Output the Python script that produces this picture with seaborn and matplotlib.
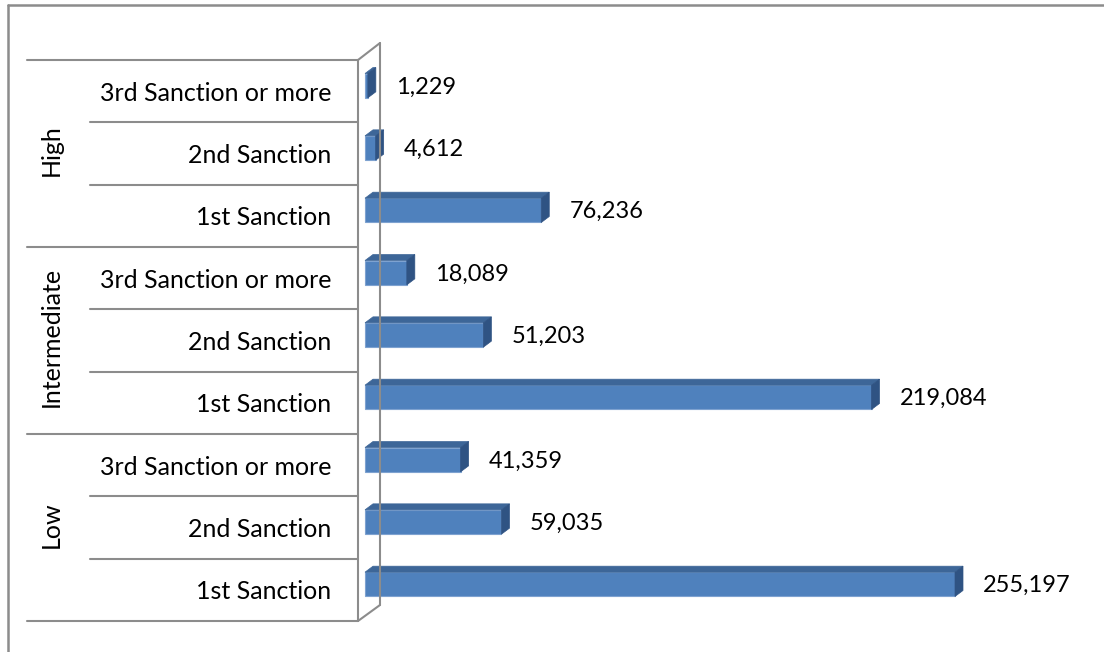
import matplotlib
matplotlib.use("Agg")
import matplotlib.pyplot as plt
from matplotlib.patches import Polygon
from matplotlib.lines import Line2D
from matplotlib.transforms import Affine2D, IdentityTransform, blended_transform_factory
import seaborn as sns
import pandas as pd

# Sanction counts by severity level
levels = ["High", "Intermediate", "Low"]
severity = ["High", "High", "High",
            "Intermediate", "Intermediate", "Intermediate",
            "Low", "Low", "Low"]
sanctions = ["3rd Sanction or more", "2nd Sanction", "1st Sanction"] * 3
counts = [1229, 4612, 76236,
          18089, 51203, 219084,
          41359, 59035, 255197]

W, H, DPI = 1104, 652, 100
FRONT = "#4F81BD"
TOP = "#3D6698"
SIDE = "#2F5383"
EDGE = "#7EA2D0"
GRAY = "#8C8C8C"
FS_LABEL = 18
FS_VALUE = 17

sns.set_theme(style="white")
plt.rcParams["font.family"] = ["Lato", "DejaVu Sans"]

fig = plt.figure(figsize=(W / DPI, H / DPI), dpi=DPI)
fig.patch.set_facecolor("white")


def fx(px):
    return px / W


def fy(py):
    return 1 - py / H


# plot area: left wall at x=358 px, rows between y=60 and y=621 px
XMAX = 300000
px_per_unit = 590 / 255197
left, top, bottom = 358, 60, 621
ax = fig.add_axes([fx(left), fy(bottom), XMAX * px_per_unit / W, (bottom - top) / H])

df = pd.DataFrame({
    "row": [f"{g} | {s}" for g, s in zip(severity, sanctions)],
    "count": counts,
})
sns.barplot(data=df, y="row", x="count", orient="h", color=FRONT,
            saturation=1, width=0.39, ax=ax)

ax.set_xlim(0, XMAX)
ax.set_ylim(len(df) - 0.5, -0.5)
ax.set_xticks([])
ax.set_yticks(range(len(df)))
ax.set_yticklabels(sanctions, fontsize=FS_LABEL, color="black")
ax.tick_params(axis="y", length=0, pad=27 * 0.72)
ax.set_xlabel("")
ax.set_ylabel("")
ax.set_facecolor("none")
for sp in ax.spines.values():
    sp.set_visible(False)

# depth of the bars (display pixels)
SHIFT = (7, 5.5)
DEPTH = (8, 6)
shift_tr = Affine2D().translate(*SHIFT)
for patch in ax.patches:
    x0, y0 = patch.get_x(), patch.get_y()
    w, h = patch.get_width(), patch.get_height()
    (xa, ya), (xb, yb) = ax.transData.transform([(x0, y0), (x0 + w, y0 + h)])
    X0, X1 = min(xa, xb) + SHIFT[0], max(xa, xb) + SHIFT[0]
    Yb, Yt = min(ya, yb) + SHIFT[1], max(ya, yb) + SHIFT[1]
    dx, dy = DEPTH
    top_face = Polygon([(X0, Yt), (X1, Yt), (X1 + dx, Yt + dy), (X0 + dx, Yt + dy)],
                       closed=True, facecolor=TOP, edgecolor=TOP, lw=0.5,
                       transform=IdentityTransform())
    side_face = Polygon([(X1, Yb), (X1 + dx, Yb + dy), (X1 + dx, Yt + dy), (X1, Yt)],
                        closed=True, facecolor=SIDE, edgecolor=SIDE, lw=0.5,
                        transform=IdentityTransform())
    fig.add_artist(top_face)
    fig.add_artist(side_face)
    patch.set_transform(ax.transData + shift_tr)
    patch.set_edgecolor(EDGE)
    patch.set_linewidth(0.8)

# value labels
for i, v in enumerate(counts):
    ax.annotate(f"{v:,}", xy=(v, i), xytext=(35 * 0.72, 4 * 0.72),
                textcoords="offset points", ha="left", va="center",
                fontsize=FS_VALUE, color="black", annotation_clip=False)

# row dividers and severity group labels
mix = blended_transform_factory(fig.transFigure, ax.transData)
for i in range(len(df) + 1):
    b = i - 0.5
    x_start = 27 if i % 3 == 0 else 90
    fig.add_artist(Line2D([fx(x_start), fx(left)], [b, b], transform=mix,
                          color=GRAY, lw=1.5))
for j, g in enumerate(levels):
    fig.text(fx(51), 3 * j + 1 - 0.05, g, transform=mix, rotation=90,
             ha="center", va="center", fontsize=FS_LABEL, color="black")

# left wall of the plot area
wall = [((left, top), (left, bottom)),
        ((380, 43), (380, 605)),
        ((left, top), (380, 43)),
        ((left, bottom), (380, 605))]
for (xa, ya), (xb, yb) in wall:
    fig.add_artist(Line2D([fx(xa), fx(xb)], [fy(ya), fy(yb)],
                          transform=fig.transFigure, color=GRAY, lw=1.5))

# chart frame
fig.add_artist(Line2D([fx(8), fx(W + 5)], [fy(5), fy(5)],
                      transform=fig.transFigure, color=GRAY, lw=1.8))
fig.add_artist(Line2D([fx(8), fx(8)], [fy(5), fy(H + 5)],
                      transform=fig.transFigure, color=GRAY, lw=1.8))

fig.savefig("out.png", dpi=DPI, facecolor="white")
